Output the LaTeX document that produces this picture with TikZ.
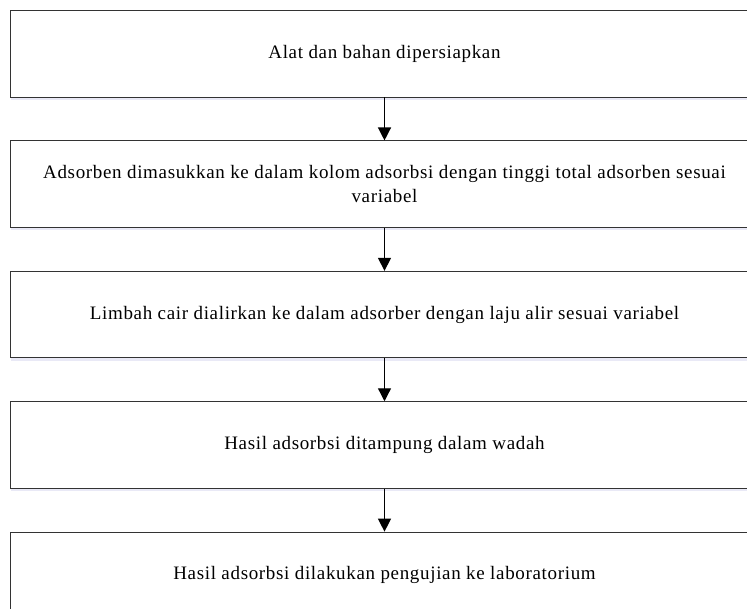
\documentclass[tikz,border=0pt]{standalone}
\usepackage{fontspec}
\setmainfont{Liberation Serif}[LetterSpace=3.5]
\usetikzlibrary{positioning,arrows.meta,shadows}

\tikzset{
    kotak/.style={draw=black!80, line width=0.9pt, fill=white,
        minimum width=748pt, minimum height=86.5pt, align=center,
        font=\fontsize{19}{23.5}\selectfont,
        drop shadow={shadow xshift=0pt, shadow yshift=-3pt, fill=blue!40!gray, opacity=0.12}},
    panah/.style={line width=1.3pt, -{Triangle[width=13pt,length=13pt]}}
}

\begin{document}
\begin{tikzpicture}[x=1pt, y=-1pt, node distance=43pt]
            \useasboundingbox (0,0) rectangle (747,608);
            \clip (0,0) rectangle (747,608);

            \node[kotak] (alat) at (384.5,53.75) {Alat dan bahan dipersiapkan};
            \node[kotak, below=of alat] (adsorben) {Adsorben dimasukkan ke dalam kolom adsorbsi dengan tinggi total adsorben sesuai\\ variabel};
            \node[kotak, below=of adsorben] (limbah) {Limbah cair dialirkan ke dalam adsorber dengan laju alir sesuai variabel};
            \node[kotak, below=of limbah] (hasil) {Hasil adsorbsi ditampung dalam wadah};
            \node[kotak, below=of hasil] (uji) {Hasil adsorbsi dilakukan pengujian ke laboratorium};

            \draw[panah] (alat) -- (adsorben);
            \draw[panah] (adsorben) -- (limbah);
            \draw[panah] (limbah) -- (hasil);
            \draw[panah] (hasil) -- (uji);
        \end{tikzpicture}
\end{document}
